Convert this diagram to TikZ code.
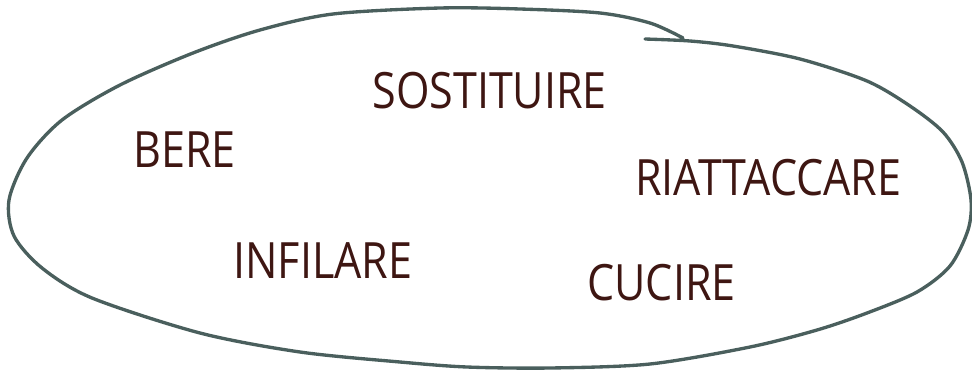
\documentclass[tikz,border=0pt]{standalone}
\usepackage{fontspec}
\setmainfont{Open Sans}[FakeStretch=0.86]
\definecolor{wordbrown}{HTML}{3E1612}
\definecolor{penline}{HTML}{4A5F5D}
\tikzset{
  word/.style={anchor=base west, inner sep=0pt, text=wordbrown,
    font=\fontsize{28.5}{31}\selectfont},
  outline/.style={draw=penline, line width=1.9pt, line cap=round}
}
\begin{document}
\begin{tikzpicture}[x=0.02cm, y=-0.02cm]
        \useasboundingbox (0,0) rectangle (972,372);
        % the loop, drawn in one stroke from the top join round to the right
        \draw[outline] plot[smooth, tension=0.5] coordinates
            {(683,38) (650,23) (600,13) (520,9) (440,8) (333,14) (260,30) (193,53)
             (120,85) (62,120) (27,158) (9,200) (14,236) (42,268) (92,298)
             (200,333) (300,352) (400,362) (467,367) (550,368) (650,364)
             (750,347) (817,330) (867,313) (917,292) (950,266) (968,230) (971,200)
             (962,162) (943,132) (910,106) (867,81) (800,59) (733,46) (690,41) (645,39)};
        % words
        \node[word] (sostituire) at (372,108) {SOSTITUIRE};
        \node[word] (bere) at (133,167) {BERE};
        \node[word] (riattaccare) at (635,195) {RIATTACCARE};
        \node[word] (infilare) at (233,278) {INFILARE};
        \node[word] (cucire) at (587,300) {CUCIRE};
    \end{tikzpicture}
\end{document}
